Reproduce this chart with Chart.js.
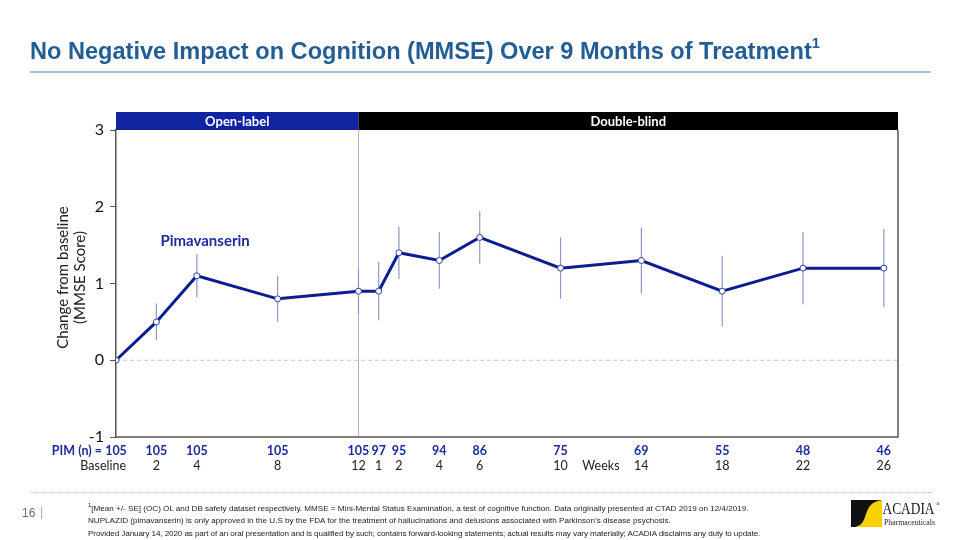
<!DOCTYPE html>
<html><head><meta charset="utf-8">
<script src="https://cdn.jsdelivr.net/npm/chart.js@4"></script>
<style>
body{margin:0;width:960px;height:540px;overflow:hidden;background:#fff;position:relative;font-family:'Liberation Sans',Arial,sans-serif}
#c{position:absolute;left:0;top:0}
.title{position:absolute;left:30px;top:36px;font-family:'Liberation Sans',sans-serif;font-weight:bold;font-size:24px;color:#225E95;white-space:nowrap;transform:scaleX(0.982);transform-origin:0 0}
.title sup{font-size:15px;position:relative;top:-2px}
.rule{position:absolute;left:30px;top:71px;width:901px;height:2px;background:#A9C3D4}
.dots{position:absolute;left:30px;top:492px;width:901px;border-top:1px dotted #B5B5B5}
.pg{position:absolute;left:22px;top:506px;font-size:12px;color:#6B6B6B}
.bar{position:absolute;left:40px;top:505px;font-size:12px;color:#8FB2C9}
.foot{position:absolute;left:88px;top:499px;font-family:'Liberation Sans',sans-serif;font-size:8.1px;line-height:12.5px;color:#222;white-space:nowrap}
.foot sup{font-size:6px}
.foot .l3{letter-spacing:-0.1px}
.logo{position:absolute;left:851px;top:499px}
</style></head>
<body>
<canvas id="c" width="960" height="540"></canvas>
<div class="title">No Negative Impact on Cognition (MMSE) Over 9 Months of Treatment<sup>1</sup></div>
<div class="rule"></div>
<div class="dots"></div>
<div class="pg">16</div><div class="bar">|</div>
<div class="foot"><sup>1</sup>[Mean +/- SE] (OC) OL and DB safety dataset respectively. MMSE = Mini-Mental Status Examination, a test of cognitive function. Data originally presented at CTAD 2019 on 12/4/2019.<br>NUPLAZID (pimavanserin) is only approved in the U.S by the FDA for the treatment of hallucinations and delusions associated with Parkinson’s disease psychosis.<br><span class="l3">Provided January 14, 2020 as part of an oral presentation and is qualified by such; contains forward-looking statements; actual results may vary materially; ACADIA disclaims any duty to update.</span></div>
<svg class="logo" width="100" height="32" viewBox="0 0 100 32">
  <rect x="0" y="1" width="31" height="27" fill="#F5D100"/>
  <path d="M0 1 H31 C18 3 17 10 14 18 C12 24 9 27 4 28 H0 Z" fill="#111"/>
  <text x="31.5" y="15" font-family="Liberation Serif,serif" font-size="16" textLength="52" lengthAdjust="spacingAndGlyphs" fill="#1a1a1a">ACADIA</text>
  <text x="84.5" y="6.5" font-family="Liberation Serif,serif" font-size="6" fill="#1a1a1a">®</text>
  <text x="33" y="25.5" font-family="Liberation Serif,serif" font-size="9" textLength="51" lengthAdjust="spacingAndGlyphs" fill="#1a1a1a">Pharmaceuticals</text>
</svg>
<script>
// ---- data ----
const timepointLabels = ['Baseline','2','4','8','12','1','2','4','6','10','14','18','22','26'];
const studyPhase      = ['OL','OL','OL','OL','OL','DB','DB','DB','DB','DB','DB','DB','DB','DB'];
const studyWeek       = [0,2,4,8,12,1,2,4,6,10,14,18,22,26];
const nValues         = [105,105,105,105,105,97,95,94,86,75,69,55,48,46];
const meanChange      = [0,0.5,1.1,0.8,0.9,0.9,1.4,1.3,1.6,1.2,1.3,0.9,1.2,1.2];
const seValues        = [0,0.24,0.28,0.3,0.3,0.38,0.34,0.37,0.34,0.4,0.43,0.46,0.47,0.51];
const openLabelWeeks  = 12;
const yTickValues     = [3,2,1,0,-1];
const seriesName      = 'Pimavanserin';
const phaseNames      = ['Open-label','Double-blind'];

const timeValue = i => studyPhase[i] === 'OL' ? studyWeek[i] : openLabelWeeks + studyWeek[i];
const points = meanChange.map((v,i)=>({x:timeValue(i), y:v}));

const LINE = '#0B1D93';
const NAVY = '#1A2C9E';
const CAL = "Lato, 'Open Sans', sans-serif";

const overlay = {
  id:'overlay',
  beforeDatasetsDraw(chart){
    const {ctx, chartArea:a, scales:{x,y}} = chart;
    ctx.save();
    ctx.strokeStyle='#C4C4C4'; ctx.lineWidth=1; ctx.setLineDash([4,3]);
    ctx.beginPath(); ctx.moveTo(a.left, y.getPixelForValue(0)); ctx.lineTo(a.right, y.getPixelForValue(0)); ctx.stroke();
    ctx.setLineDash([]);
    const sx = x.getPixelForValue(openLabelWeeks);
    ctx.strokeStyle='#AEB3CC'; ctx.lineWidth=1;
    ctx.beginPath(); ctx.moveTo(sx, a.top); ctx.lineTo(sx, a.bottom); ctx.stroke();
    ctx.strokeStyle='#8E96C6'; ctx.lineWidth=1.2;
    points.forEach((p,i)=>{
      if(!seValues[i]) return;
      const px = x.getPixelForValue(p.x);
      ctx.beginPath();
      ctx.moveTo(px, y.getPixelForValue(p.y+seValues[i]));
      ctx.lineTo(px, y.getPixelForValue(p.y-seValues[i]));
      ctx.stroke();
    });
    ctx.restore();
  },
  afterDraw(chart){
    const {ctx, chartArea:a, scales:{x,y}} = chart;
    ctx.save();
    ctx.strokeStyle='#555'; ctx.lineWidth=1.5;
    ctx.beginPath(); ctx.moveTo(a.left, a.bottom); ctx.lineTo(a.right, a.bottom); ctx.lineTo(a.right, a.top); ctx.stroke();
    const sx = x.getPixelForValue(openLabelWeeks);
    const top = a.top-18;
    ctx.fillStyle='#1024A2'; ctx.fillRect(a.left, top, sx-a.left, 18);
    ctx.fillStyle='#000'; ctx.fillRect(sx, top, a.right-sx, 18);
    ctx.fillStyle='#fff'; ctx.font="bold 13px "+CAL; ctx.textAlign='center'; ctx.textBaseline='middle';
    ctx.fillText(phaseNames[0], (a.left+sx)/2, top+9.5);
    ctx.fillText(phaseNames[1], (sx+a.right)/2, top+9.5);
    ctx.fillStyle=NAVY; ctx.font="bold 15px "+CAL; ctx.textAlign='left';
    ctx.fillText(seriesName, x.getPixelForValue(2.2), y.getPixelForValue(1.55));
    points.forEach((p,i)=>{
      const px = x.getPixelForValue(p.x);
      ctx.fillStyle=NAVY; ctx.font="bold 12.5px "+CAL; ctx.textAlign='center';
      ctx.fillText(String(nValues[i]), px, a.bottom+14);
      if(i===0){
        const w = ctx.measureText(String(nValues[i])).width;
        ctx.textAlign='right';
        ctx.fillText('PIM (n) = ', px - w/2, a.bottom+14);
      }
      ctx.fillStyle='#222'; ctx.font="12.5px "+CAL;
      if(i===0){ ctx.textAlign='right'; ctx.fillText(timepointLabels[i], px+10, a.bottom+29); }
      else { ctx.textAlign='center'; ctx.fillText(timepointLabels[i], px, a.bottom+29); }
    });
    ctx.textAlign='center';
    ctx.fillText('Weeks', (x.getPixelForValue(points[9].x)+x.getPixelForValue(points[10].x))/2, a.bottom+29);
    ctx.fillStyle='#222'; ctx.font="15px "+CAL;
    const cy = (a.top+a.bottom)/2 - 6;
    ctx.save(); ctx.translate(63, cy); ctx.rotate(-Math.PI/2); ctx.fillText('Change from baseline',0,0); ctx.restore();
    ctx.save(); ctx.translate(80, cy); ctx.rotate(-Math.PI/2); ctx.fillText('(MMSE Score)',0,0); ctx.restore();
    ctx.restore();
  }
};

new Chart(document.getElementById('c'), {
  type:'line',
  data:{datasets:[{
    label:seriesName, data:points,
    borderColor:LINE, borderWidth:3,
    pointRadius:3, pointBackgroundColor:'#fff', pointBorderColor:'#2C3CA6', pointBorderWidth:1,
    tension:0
  }]},
  options:{
    responsive:false, animation:false, devicePixelRatio:1,
    layout:{padding:{top:130,bottom:103,right:62,left:0}},
    plugins:{legend:{display:false}, tooltip:{enabled:false}},
    scales:{
      x:{type:'linear', display:false, min:0, max:38.7},
      y:{min:-1, max:3,
        afterFit(s){ s.width=116; },
        afterBuildTicks(s){ s.ticks = yTickValues.map(v=>({value:v})); },
        ticks:{color:'#111', font:{family:CAL, size:16}, padding:6},
        grid:{drawOnChartArea:false, tickLength:6, color:'#555'},
        border:{color:'#555', width:1.5}
      }
    }
  },
  plugins:[overlay]
});
</script>
</body></html>
